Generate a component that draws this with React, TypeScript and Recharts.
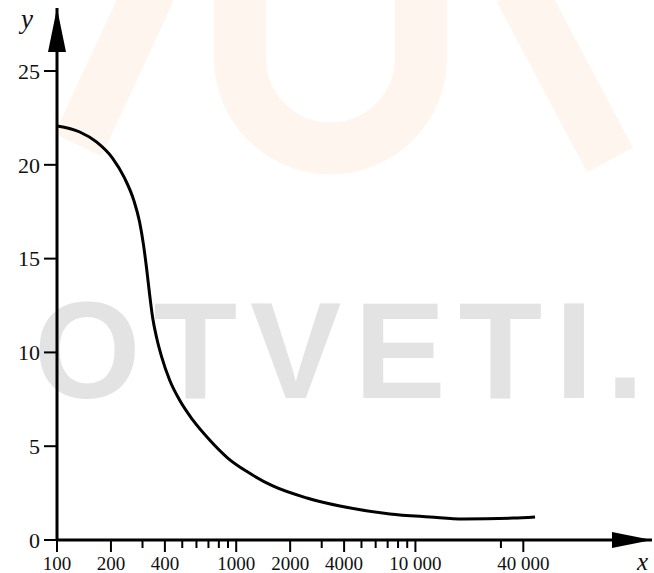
import React from 'react';
import { LineChart, Line, XAxis, YAxis, ReferenceDot } from 'recharts';

// curve (x on a log axis)
const xValues = [100, 134, 166, 204, 238, 268, 289, 304, 316, 329, 342, 360, 384, 425, 483, 572, 711, 897, 1160, 1600, 2480, 3790, 7200, 12050, 18430, 35050, 46520];
const yValues = [22.07, 21.75, 21.22, 20.36, 19.3, 18.12, 16.95, 15.72, 14.5, 13.06, 11.83, 10.77, 9.75, 8.53, 7.46, 6.4, 5.33, 4.37, 3.62, 2.88, 2.24, 1.81, 1.39, 1.23, 1.12, 1.17, 1.23];

const xTicks = [100, 200, 300, 400, 500, 600, 700, 800, 900, 1000, 2000, 3000, 4000, 5000, 6000, 7000, 8000, 9000, 10000, 30000, 40000];
const xTickLabels: Record<number, string> = {
    100: '100',
    200: '200',
    400: '400',
    1000: '1000',
    2000: '2000',
    4000: '4000',
    10000: '10 000',
    40000: '40 000',
};
const yTicks = [0, 5, 10, 15, 20, 25];

const xDomain = [100, 209000];
const yDomain = [0, 28.36];

const data = xValues.map((x, i) => ({ x, y: yValues[i] }));

const FONT = '"Liberation Serif", "Times New Roman", serif';

const XTick: React.FC<any> = ({ x, y, payload }) => {
    const label = xTickLabels[payload.value];
    const len = label ? 12 : 8;
    return (
        <g>
            <line x1={x} y1={y} x2={x} y2={y + len} stroke="#000" strokeWidth={2} />
            {label && (
                <text x={x} y={y + 30} textAnchor="middle" fontSize={19} fontFamily={FONT} fill="#111">
                    {label}
                </text>
            )}
        </g>
    );
};

const UpArrow: React.FC<any> = ({ cx, cy }) => (
    <polygon points={`${cx},${cy} ${cx - 9},${cy + 44} ${cx + 9},${cy + 44}`} fill="#000" />
);

const RightArrow: React.FC<any> = ({ cx, cy }) => (
    <polygon points={`${cx},${cy} ${cx - 40},${cy - 8} ${cx - 40},${cy + 8}`} fill="#000" />
);

export default function App() {
    return (
        <div style={{ position: 'relative', width: 654, height: 573, background: '#fff' }}>
            <style>{'body{margin:0}'}</style>
            {/* watermark behind the chart */}
            <svg width={654} height={573} style={{ position: 'absolute', left: 0, top: 0 }}>
                <g stroke="#fef5ee" strokeWidth={52} fill="none" strokeLinecap="butt">
                    <line x1={150} y1={-10} x2={78} y2={145} />
                    <path d="M 240 -10 L 240 58 A 90.5 90.5 0 0 0 421 58 L 421 -10" />
                    <line x1={520} y1={-10} x2={610} y2={160} />
                </g>
                <text
                    x={34}
                    y={398}
                    fontSize={137}
                    fontWeight="bold"
                    fontFamily='"Liberation Sans", Arial, sans-serif'
                    fill="#e3e3e3"
                    textLength={610}
                    lengthAdjust="spacing"
                >
                    OTVETI.
                </text>
            </svg>
            <div style={{ position: 'absolute', left: 0, top: 0 }}>
                <LineChart width={654} height={573} data={data} margin={{ top: 8, right: 2, bottom: 0, left: 0 }}>
                    <XAxis
                        dataKey="x"
                        type="number"
                        scale="log"
                        domain={xDomain}
                        ticks={xTicks}
                        interval={0}
                        allowDataOverflow
                        height={33}
                        tickLine={false}
                        tickSize={0}
                        tickMargin={0}
                        axisLine={{ stroke: '#000', strokeWidth: 3 }}
                        tick={<XTick />}
                    />
                    <YAxis
                        type="number"
                        domain={yDomain}
                        ticks={yTicks}
                        interval={0}
                        allowDataOverflow
                        width={57}
                        tickSize={13}
                        tickMargin={4}
                        tickLine={{ stroke: '#000', strokeWidth: 2 }}
                        axisLine={{ stroke: '#000', strokeWidth: 3 }}
                        tick={{ fontSize: 22, fontFamily: FONT, fill: '#111' }}
                    />
                    <Line
                        dataKey="y"
                        type="monotone"
                        stroke="#000"
                        strokeWidth={3}
                        dot={false}
                        isAnimationActive={false}
                    />
                    <ReferenceDot x={xDomain[0]} y={yDomain[1]} r={0} shape={<UpArrow />} />
                    <ReferenceDot x={xDomain[1]} y={0} r={0} shape={<RightArrow />} />
                </LineChart>
            </div>
            <svg width={654} height={573} style={{ position: 'absolute', left: 0, top: 0, pointerEvents: 'none' }}>
                <text x={21} y={28} fontSize={27} fontStyle="italic" fontFamily={FONT} fill="#111">
                    y
                </text>
                <text x={637} y={570} fontSize={25} fontStyle="italic" fontFamily={FONT} fill="#111">
                    x
                </text>
            </svg>
        </div>
    );
}
